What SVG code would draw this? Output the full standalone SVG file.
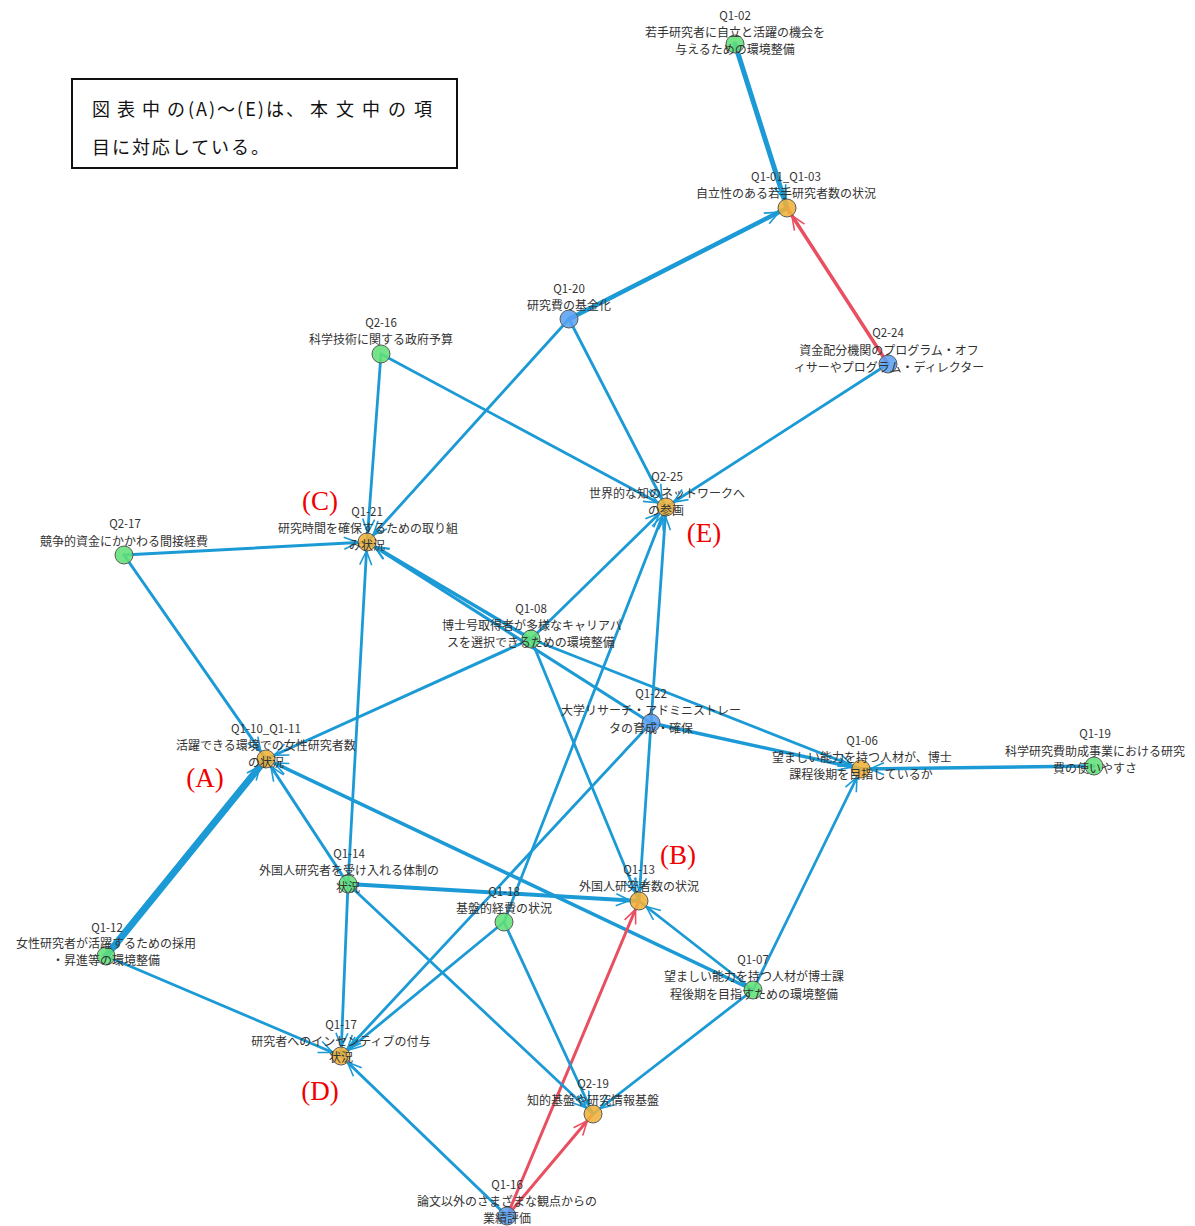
<svg xmlns="http://www.w3.org/2000/svg" width="1195" height="1226" viewBox="0 0 1195 1226">
  <style>
    .e { stroke: #1b9ad6; fill: none; stroke-linecap: round; marker-end: url(#arB); }
    .r { stroke: #e94f60; fill: none; stroke-linecap: round; marker-end: url(#arR); }
    .g { fill: #62e077; fill-opacity: 0.88; stroke: #5a5a5a; stroke-width: 1; }
    .o { fill: #f0b23a; fill-opacity: 0.88; stroke: #5a5a5a; stroke-width: 1; }
    .b { fill: #5aa0f2; fill-opacity: 0.88; stroke: #5a5a5a; stroke-width: 1; }
    .id { font-family: "Noto Sans CJK JP", "Noto Sans", sans-serif; font-size: 11.5px; fill: #333; text-anchor: middle; }
    .lb { font-family: "Noto Sans CJK JP", "Noto Sans", sans-serif; font-size: 12px; fill: #333; text-anchor: middle; }
    .tag { font-family: "Liberation Serif", serif; font-size: 27px; fill: #f00000; text-anchor: middle; }
    .note { font-family: "Noto Sans CJK JP", "Noto Sans", sans-serif; font-size: 18px; fill: #111; }
  </style>
  <defs>
    <marker id="arB" markerUnits="userSpaceOnUse" markerWidth="30" markerHeight="16" viewBox="0 0 30 16" refX="25" refY="8" orient="auto" overflow="visible">
      <path d="M2,2 L16,8 L2,14" fill="none" stroke="#1b9ad6" stroke-width="1.6"/>
    </marker>
    <marker id="arR" markerUnits="userSpaceOnUse" markerWidth="30" markerHeight="16" viewBox="0 0 30 16" refX="25" refY="8" orient="auto" overflow="visible">
      <path d="M2,2 L16,8 L2,14" fill="none" stroke="#e94f60" stroke-width="1.6"/>
    </marker>
  </defs>

  <rect width="1195" height="1226" fill="#ffffff"/>

  <!-- explanatory note box -->
  <g id="note">
    <rect x="72" y="79" width="385" height="89" fill="#ffffff" stroke="#111" stroke-width="2"/>
    <text class="note" y="116"><tspan x="92" letter-spacing="7">図表中の</tspan><tspan x="188" letter-spacing="2">(A)～(E)は、</tspan><tspan x="310" letter-spacing="8">本文中の項</tspan></text>
    <text class="note" x="92" y="154" textLength="177" lengthAdjust="spacing">目に対応している。</text>
  </g>

  <!-- connectors -->
  <g id="edges">
    <line class="e" x1="735" y1="44" x2="787" y2="208" stroke-width="5"/>
    <line class="e" x1="569" y1="319" x2="787" y2="208" stroke-width="4.5"/>
    <line class="r" x1="888" y1="364" x2="787" y2="208" stroke-width="3.5"/>
    <line class="e" x1="569" y1="319" x2="367" y2="542" stroke-width="2.8"/>
    <line class="e" x1="569" y1="319" x2="666" y2="507" stroke-width="2.8"/>
    <line class="e" x1="888" y1="364" x2="666" y2="507" stroke-width="2.8"/>
    <line class="e" x1="381" y1="354" x2="367" y2="542" stroke-width="2.8"/>
    <line class="e" x1="381" y1="354" x2="666" y2="507" stroke-width="2.8"/>
    <line class="e" x1="124" y1="555" x2="367" y2="542" stroke-width="3"/>
    <line class="e" x1="124" y1="555" x2="266" y2="759" stroke-width="3"/>
    <line class="e" x1="531" y1="639" x2="367" y2="542" stroke-width="3.5"/>
    <line class="e" x1="651" y1="723" x2="367" y2="542" stroke-width="3"/>
    <line class="e" x1="348" y1="884" x2="367" y2="542" stroke-width="2.8"/>
    <line class="e" x1="531" y1="639" x2="266" y2="759" stroke-width="3"/>
    <line class="e" x1="106" y1="956" x2="266" y2="759" stroke-width="7"/>
    <line class="e" x1="348" y1="884" x2="266" y2="759" stroke-width="3"/>
    <line class="e" x1="753" y1="990" x2="266" y2="759" stroke-width="3.5"/>
    <line class="e" x1="531" y1="639" x2="666" y2="507" stroke-width="2.8"/>
    <line class="e" x1="504" y1="922" x2="666" y2="507" stroke-width="2.8"/>
    <line class="e" x1="651" y1="723" x2="666" y2="507" stroke-width="2.8"/>
    <line class="e" x1="651" y1="723" x2="639" y2="901" stroke-width="2.8"/>
    <line class="e" x1="531" y1="639" x2="639" y2="901" stroke-width="2.8"/>
    <line class="e" x1="348" y1="884" x2="639" y2="901" stroke-width="4"/>
    <line class="e" x1="753" y1="990" x2="639" y2="901" stroke-width="2.8"/>
    <line class="r" x1="507" y1="1216" x2="639" y2="901" stroke-width="3"/>
    <line class="r" x1="507" y1="1216" x2="593" y2="1114" stroke-width="3"/>
    <line class="e" x1="507" y1="1216" x2="341" y2="1056" stroke-width="3"/>
    <line class="e" x1="106" y1="956" x2="341" y2="1056" stroke-width="2.8"/>
    <line class="e" x1="651" y1="723" x2="341" y2="1056" stroke-width="2.8"/>
    <line class="e" x1="504" y1="922" x2="341" y2="1056" stroke-width="2.8"/>
    <line class="e" x1="348" y1="884" x2="341" y2="1056" stroke-width="2.8"/>
    <line class="e" x1="348" y1="884" x2="593" y2="1114" stroke-width="2.8"/>
    <line class="e" x1="504" y1="922" x2="593" y2="1114" stroke-width="2.8"/>
    <line class="e" x1="753" y1="990" x2="593" y2="1114" stroke-width="2.8"/>
    <line class="e" x1="753" y1="990" x2="861" y2="769" stroke-width="2.8"/>
    <line class="e" x1="1094" y1="766" x2="861" y2="769" stroke-width="3.5"/>
    <line class="e" x1="651" y1="723" x2="861" y2="769" stroke-width="3.5"/>
    <line class="e" x1="531" y1="639" x2="861" y2="769" stroke-width="2.8"/>
  </g>

  <!-- nodes -->
  <g id="Q1-02">
    <circle class="g" cx="735" cy="44" r="9"/>
    <text class="id" x="735" y="20">Q1-02</text>
    <text class="lb" x="735" y="37">若手研究者に自立と活躍の機会を</text>
    <text class="lb" x="735" y="54">与えるための環境整備</text>
  </g>
  <g id="Q1-01_Q1-03">
    <circle class="o" cx="787" cy="208" r="9"/>
    <text class="id" x="786" y="181">Q1-01_Q1-03</text>
    <text class="lb" x="786" y="198">自立性のある若手研究者数の状況</text>
  </g>
  <g id="Q1-20">
    <circle class="b" cx="569" cy="319" r="9"/>
    <text class="id" x="569" y="293">Q1-20</text>
    <text class="lb" x="569" y="310">研究費の基金化</text>
  </g>
  <g id="Q2-24">
    <circle class="b" cx="888" cy="364" r="9"/>
    <text class="id" x="888" y="337">Q2-24</text>
    <text class="lb" x="889" y="355">資金配分機関のプログラム・オフ</text>
    <text class="lb" x="889" y="372">ィサーやプログラム・ディレクター</text>
  </g>
  <g id="Q2-16">
    <circle class="g" cx="381" cy="354" r="9"/>
    <text class="id" x="381" y="327">Q2-16</text>
    <text class="lb" x="381" y="344">科学技術に関する政府予算</text>
  </g>
  <g id="Q2-25">
    <circle class="o" cx="666" cy="507" r="9"/>
    <text class="id" x="667" y="481">Q2-25</text>
    <text class="lb" x="667" y="498">世界的な知のネットワークへ</text>
    <text class="lb" x="666" y="515">の参画</text>
  </g>
  <g id="Q1-21">
    <circle class="o" cx="367" cy="542" r="9"/>
    <text class="id" x="367" y="516">Q1-21</text>
    <text class="lb" x="368" y="533">研究時間を確保するための取り組</text>
    <text class="lb" x="367" y="550">み状況</text>
  </g>
  <g id="Q2-17">
    <circle class="g" cx="124" cy="555" r="9"/>
    <text class="id" x="125" y="528">Q2-17</text>
    <text class="lb" x="124" y="546">競争的資金にかかわる間接経費</text>
  </g>
  <g id="Q1-08">
    <circle class="g" cx="531" cy="639" r="9"/>
    <text class="id" x="531" y="613">Q1-08</text>
    <text class="lb" x="532" y="630">博士号取得者が多様なキャリアパ</text>
    <text class="lb" x="531" y="647">スを選択できるための環境整備</text>
  </g>
  <g id="Q1-22">
    <circle class="b" cx="651" cy="723" r="9"/>
    <text class="id" x="651" y="698">Q1-22</text>
    <text class="lb" x="651" y="715">大学リサーチ・アドミニストレー</text>
    <text class="lb" x="651" y="733">タの育成・確保</text>
  </g>
  <g id="Q1-06">
    <circle class="o" cx="861" cy="769" r="9"/>
    <text class="id" x="862" y="745">Q1-06</text>
    <text class="lb" x="862" y="762">望ましい能力を持つ人材が、博士</text>
    <text class="lb" x="861" y="779">課程後期を目指しているか</text>
  </g>
  <g id="Q1-19">
    <circle class="g" cx="1094" cy="766" r="9"/>
    <text class="id" x="1095" y="738">Q1-19</text>
    <text class="lb" x="1095" y="756">科学研究費助成事業における研究</text>
    <text class="lb" x="1095" y="773">費の使いやすさ</text>
  </g>
  <g id="Q1-10_Q1-11">
    <circle class="o" cx="266" cy="759" r="9"/>
    <text class="id" x="266" y="733">Q1-10_Q1-11</text>
    <text class="lb" x="266" y="750">活躍できる環境での女性研究者数</text>
    <text class="lb" x="266" y="767">の状況</text>
  </g>
  <g id="Q1-14">
    <circle class="g" cx="348" cy="884" r="9"/>
    <text class="id" x="349" y="858">Q1-14</text>
    <text class="lb" x="349" y="875">外国人研究者を受け入れる体制の</text>
    <text class="lb" x="348" y="892">状況</text>
  </g>
  <g id="Q1-18">
    <circle class="g" cx="504" cy="922" r="9"/>
    <text class="id" x="504" y="896">Q1-18</text>
    <text class="lb" x="504" y="913">基盤的経費の状況</text>
  </g>
  <g id="Q1-13">
    <circle class="o" cx="639" cy="901" r="9"/>
    <text class="id" x="639" y="874">Q1-13</text>
    <text class="lb" x="639" y="891">外国人研究者数の状況</text>
  </g>
  <g id="Q1-12">
    <circle class="g" cx="106" cy="956" r="9"/>
    <text class="id" x="107" y="932">Q1-12</text>
    <text class="lb" x="106" y="948">女性研究者が活躍するための採用</text>
    <text class="lb" x="106" y="965">・昇進等の環境整備</text>
  </g>
  <g id="Q1-07">
    <circle class="g" cx="753" cy="990" r="9"/>
    <text class="id" x="753" y="964">Q1-07</text>
    <text class="lb" x="754" y="981">望ましい能力を持つ人材が博士課</text>
    <text class="lb" x="754" y="999">程後期を目指すための環境整備</text>
  </g>
  <g id="Q1-17">
    <circle class="o" cx="341" cy="1056" r="9"/>
    <text class="id" x="341" y="1029">Q1-17</text>
    <text class="lb" x="341" y="1046">研究者へのインセンティブの付与</text>
    <text class="lb" x="341" y="1062">状況</text>
  </g>
  <g id="Q2-19">
    <circle class="o" cx="593" cy="1114" r="9"/>
    <text class="id" x="593" y="1088">Q2-19</text>
    <text class="lb" x="593" y="1105">知的基盤や研究情報基盤</text>
  </g>
  <g id="Q1-16">
    <circle class="b" cx="507" cy="1216" r="9"/>
    <text class="id" x="507" y="1189">Q1-16</text>
    <text class="lb" x="507" y="1206">論文以外のさまざまな観点からの</text>
    <text class="lb" x="507" y="1223">業績評価</text>
  </g>

  <!-- section markers -->
  <g id="tags">
    <text class="tag" x="205" y="787">(A)</text>
    <text class="tag" x="678" y="864">(B)</text>
    <text class="tag" x="320" y="510">(C)</text>
    <text class="tag" x="320" y="1100">(D)</text>
    <text class="tag" x="704" y="542">(E)</text>
  </g>
</svg>
